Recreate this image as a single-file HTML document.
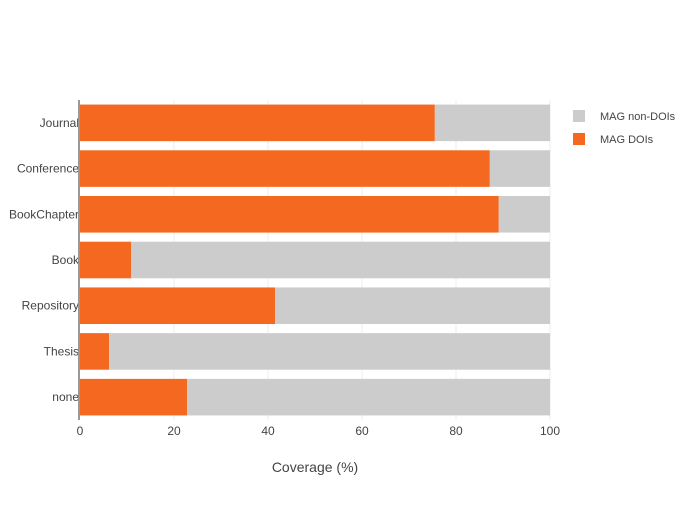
<!DOCTYPE html>
<html><head><meta charset="utf-8"><style>
body{margin:0;background:#fff}
svg text{font-family:"Liberation Sans",sans-serif;fill:#444}
</style></head><body>
<svg id="chart" width="700" height="500">
<g id="grid"></g><g id="bars"></g><g id="axes"></g>
<g>
<g><rect x="573" y="110" width="12" height="12" fill="#cccccc"/><text x="600" y="120" font-size="11">MAG non-DOIs</text></g>
<g><rect x="573" y="133" width="12" height="12" fill="#f4691f"/><text x="600" y="143" font-size="11">MAG DOIs</text></g>
</g>
<text x="315" y="472" font-size="14" text-anchor="middle">Coverage (%)</text>
</svg>
<script>
const categories=["Journal","Conference","BookChapter","Book","Repository","Thesis","none"];
const doiValues=[75.5,87.2,89.1,10.9,41.5,6.2,22.8];
const nonDoiValues=[24.5,12.8,10.9,89.1,58.5,93.8,77.2];
const xTicks=[0,20,40,60,80,100];
const NS="http://www.w3.org/2000/svg";
const x0=80,x1=550,yTop=100,yBot=420;
const xs=v=>x0+(v/100)*(x1-x0);
const step=(yBot-yTop)/categories.length;
const yc=i=>yTop+step*(i+0.5);
function mk(t,a,p){const e=document.createElementNS(NS,t);for(const k in a)e.setAttribute(k,a[k]);p.appendChild(e);return e;}
const grid=document.getElementById('grid'),bars=document.getElementById('bars'),axes=document.getElementById('axes');
xTicks.forEach(t=>{
 if(t>0){const l=mk('line',{x1:xs(t),x2:xs(t),y1:yTop,y2:yBot,stroke:'#eeeeee'},grid);
 
 }
 const tx=mk('text',{x:xs(t),y:435,'font-size':12,'text-anchor':'middle'},axes);tx.textContent=t;
 
 
});
categories.forEach((c,i)=>{
 const h=step*0.8,y=yc(i)-h/2;
 const r1=mk('rect',{x:xs(0),y:y,width:xs(doiValues[i])-xs(0),height:h,fill:'#f4691f'},bars);
 
 
 const r2=mk('rect',{x:xs(doiValues[i]),y:y,width:xs(doiValues[i]+nonDoiValues[i])-xs(doiValues[i]),height:h,fill:'#cccccc'},bars);
 
 
 const tx=mk('text',{x:79,y:yc(i)+4,'font-size':12,'text-anchor':'end'},axes);tx.textContent=c;
 
 
});
const ax=mk('line',{x1:79,x2:79,y1:yTop,y2:yBot,stroke:'#999','stroke-width':2},axes);


</script>
</body></html>
